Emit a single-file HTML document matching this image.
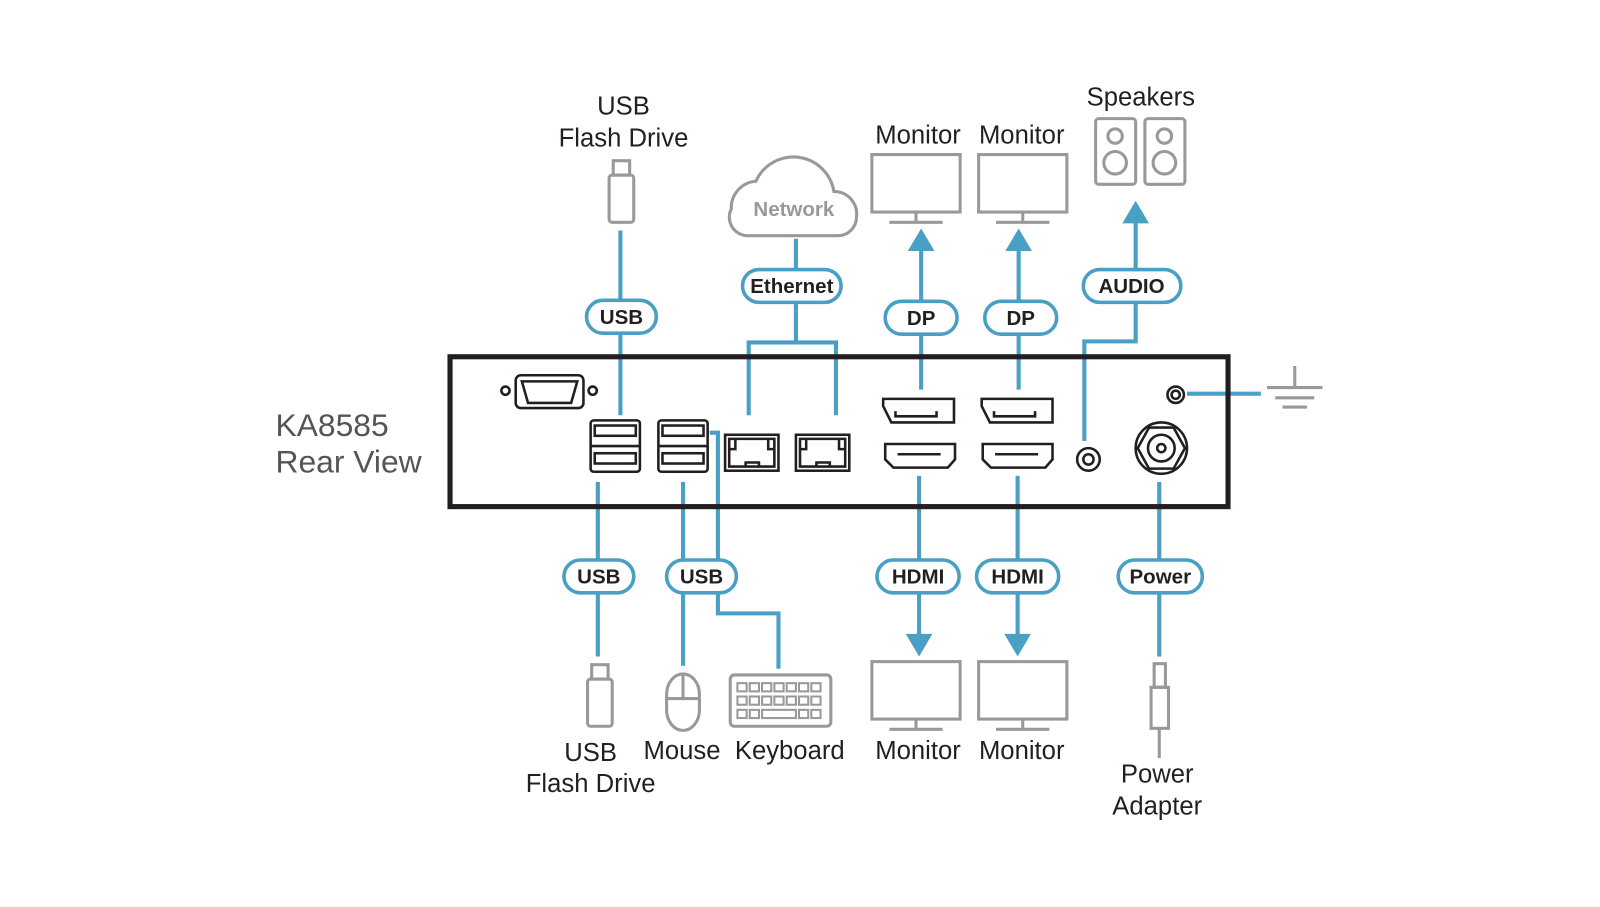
<!DOCTYPE html>
<html><head><meta charset="utf-8"><style>
html,body{margin:0;padding:0;background:#fff;}
svg{display:block;}
text{font-family:"Liberation Sans",Arial,sans-serif;}
</style></head><body>
<svg width="1600" height="907" viewBox="0 0 1600 907" xmlns="http://www.w3.org/2000/svg">
<rect width="1600" height="907" fill="#fff"/>
<g transform="translate(-5.7,-3.5) scale(1.0264)">
<g stroke="#4a9fc4" stroke-width="4" fill="none">
  <line x1="610" y1="228" x2="610" y2="408"/>
  <line x1="781" y1="236" x2="781" y2="336"/>
  <polyline points="735,408 735,337 820,337 820,408"/>
  <line x1="903" y1="383" x2="903" y2="246"/>
  <line x1="998" y1="383" x2="998" y2="246"/>
  <polyline points="1062,433 1062,336 1112,336 1112,218"/>
  <line x1="1162" y1="387" x2="1234" y2="387"/>
  <line x1="588" y1="473" x2="588" y2="643"/>
  <line x1="671" y1="473" x2="671" y2="652"/>
  <polyline points="697,425 705,425 705,601 764,601 764,655"/>
  <line x1="901" y1="467" x2="901" y2="626"/>
  <line x1="997" y1="467" x2="997" y2="626"/>
  <line x1="1135" y1="473" x2="1135" y2="643"/>
</g>
<g fill="#4a9fc4">
  <polygon points="903,226 890,248 916,248"/>
  <polygon points="998,226 985,248 1011,248"/>
  <polygon points="1112,199 1099,221 1125,221"/>
  <polygon points="901,643 888,621 914,621"/>
  <polygon points="997,643 984,621 1010,621"/>
</g>
<rect x="444" y="351" width="758" height="146" fill="none" stroke="#231f20" stroke-width="5"/>
<g stroke="#231f20" stroke-width="2.5" fill="none">
  <circle cx="498" cy="384" r="4"/><circle cx="583" cy="384" r="4"/>
  <rect x="508" y="369" width="66" height="32" rx="5"/>
  <path d="M514,375 H568 L562,396 H520 Z"/>
  <rect x="581" y="413" width="48" height="50" rx="3"/>
  <rect x="585" y="418" width="40" height="10"/><rect x="585" y="445" width="40" height="10"/>
  <line x1="581" y1="438" x2="629" y2="438"/>
  <rect x="647" y="413" width="48" height="50" rx="3"/>
  <rect x="651" y="418" width="40" height="10"/><rect x="651" y="445" width="40" height="10"/>
  <line x1="647" y1="438" x2="695" y2="438"/>
  <rect x="712" y="427" width="52" height="35"/>
  <path d="M716,431 H760 V458 H716 Z M716,441 H722 V431 M760,441 H754 V431 M732,458 V454 H745 V458"/>
  <rect x="781" y="427" width="52" height="35"/>
  <path d="M785,431 H829 V458 H785 Z M785,441 H791 V431 M829,441 H823 V431 M801,458 V454 H814 V458"/>
  <path d="M866,399 V392 H935 V415 H874 Z"/><path d="M878,404 V409 H918 V404"/>
  <path d="M962,399 V392 H1031 V415 H970 Z"/><path d="M974,404 V409 H1014 V404"/>
  <path d="M868,436 H936 V451 L929,459 H876 L868,451 Z"/><line x1="880" y1="446" x2="922" y2="446"/>
  <path d="M963,436 H1031 V451 L1024,459 H971 L963,451 Z"/><line x1="975" y1="446" x2="1017" y2="446"/>
  <circle cx="1066" cy="451" r="11"/><circle cx="1066" cy="451" r="5"/>
  <circle cx="1137" cy="440" r="25"/>
  <polygon points="1125,420 1149,420 1160,440 1149,460 1125,460 1114,440"/>
  <circle cx="1137" cy="440" r="13"/><circle cx="1137" cy="440" r="4"/>
  <circle cx="1151" cy="388" r="8"/><circle cx="1151" cy="388" r="4"/>
</g>
<g stroke="#999" stroke-width="3">
  <line x1="1267" y1="360" x2="1267" y2="380"/>
  <line x1="1240" y1="381" x2="1294" y2="381"/>
  <line x1="1248" y1="391" x2="1286" y2="391"/>
  <line x1="1255" y1="400" x2="1279" y2="400"/>
</g>
<g stroke="#999" stroke-width="3" fill="none">
  <rect x="599" y="174" width="24" height="46" rx="3"/>
  <rect x="603" y="160" width="16" height="14"/>
  <rect x="578" y="665" width="24" height="46" rx="3"/>
  <rect x="582" y="651" width="16" height="14"/>
  <path d="M718,207 A26,26 0 0 1 742,180 A40,40 0 0 1 818,190 A22,22 0 0 1 840,215 A18,18 0 0 1 822,233 H735 A18,18 0 0 1 718,207 Z" fill="#fff"/>
  <rect x="855" y="154" width="86" height="56"/><line x1="898" y1="210" x2="898" y2="219"/><line x1="872" y1="220" x2="924" y2="220"/>
  <rect x="959" y="154" width="86" height="56"/><line x1="1002" y1="210" x2="1002" y2="219"/><line x1="976" y1="220" x2="1028" y2="220"/>
  <rect x="855" y="648" width="86" height="56"/><line x1="898" y1="704" x2="898" y2="713"/><line x1="872" y1="714" x2="924" y2="714"/>
  <rect x="959" y="648" width="86" height="56"/><line x1="1002" y1="704" x2="1002" y2="713"/><line x1="976" y1="714" x2="1028" y2="714"/>
  <rect x="1073" y="119" width="39" height="64" rx="3"/><circle cx="1092" cy="136" r="7"/><circle cx="1092" cy="162" r="11"/>
  <rect x="1121" y="119" width="39" height="64" rx="3"/><circle cx="1140" cy="136" r="7"/><circle cx="1140" cy="162" r="11"/>
  <path d="M655,680 A16,20 0 0 1 687,680 V695 A16,20 0 0 1 655,695 Z"/><line x1="655" y1="684" x2="687" y2="684"/><line x1="671" y1="661" x2="671" y2="684"/>
  <rect x="717" y="661" width="98" height="50" rx="4"/>
  <rect x="1127" y="673" width="17" height="40"/><rect x="1130" y="650" width="11" height="23"/><line x1="1135" y1="713" x2="1135" y2="742"/>
</g>
<g stroke="#999" stroke-width="2" fill="none">
  <rect x="724" y="669" width="9" height="8"/><rect x="736" y="669" width="9" height="8"/><rect x="748" y="669" width="9" height="8"/><rect x="760" y="669" width="9" height="8"/><rect x="772" y="669" width="9" height="8"/><rect x="784" y="669" width="9" height="8"/><rect x="796" y="669" width="9" height="8"/>
  <rect x="724" y="682" width="9" height="8"/><rect x="736" y="682" width="9" height="8"/><rect x="748" y="682" width="9" height="8"/><rect x="760" y="682" width="9" height="8"/><rect x="772" y="682" width="9" height="8"/><rect x="784" y="682" width="9" height="8"/><rect x="796" y="682" width="9" height="8"/>
  <rect x="724" y="695" width="9" height="8"/><rect x="736" y="695" width="9" height="8"/><rect x="748" y="695" width="33" height="8"/><rect x="784" y="695" width="9" height="8"/><rect x="796" y="695" width="9" height="8"/>
</g>
<text x="779" y="214" font-size="20" font-weight="bold" fill="#999" text-anchor="middle">Network</text>
<g fill="#fff" stroke="#4a9fc4" stroke-width="3.5">
  <rect x="577" y="296" width="68" height="32" rx="16"/>
  <rect x="729" y="266" width="96" height="32" rx="16"/>
  <rect x="868" y="297" width="70" height="32" rx="16"/>
  <rect x="965" y="297" width="70" height="32" rx="16"/>
  <rect x="1061" y="266" width="95" height="32" rx="16"/>
  <rect x="555" y="549" width="68" height="32" rx="16"/>
  <rect x="655" y="549" width="68" height="32" rx="16"/>
  <rect x="860" y="549" width="80" height="32" rx="16"/>
  <rect x="957" y="549" width="80" height="32" rx="16"/>
  <rect x="1095" y="549" width="82" height="32" rx="16"/>
</g>
<g font-size="20" font-weight="bold" fill="#231f20" text-anchor="middle">
  <text x="611" y="319">USB</text>
  <text x="777" y="289">Ethernet</text>
  <text x="903" y="320">DP</text>
  <text x="1000" y="320">DP</text>
  <text x="1108" y="289">AUDIO</text>
  <text x="589" y="572">USB</text>
  <text x="689" y="572">USB</text>
  <text x="900" y="572">HDMI</text>
  <text x="997" y="572">HDMI</text>
  <text x="1136" y="572">Power</text>
</g>
<g font-size="25" fill="#231f20" text-anchor="middle">
  <text x="613" y="115">USB</text>
  <text x="613" y="146">Flash Drive</text>
  <text x="900" y="143">Monitor</text>
  <text x="1001" y="143">Monitor</text>
  <text x="1117" y="106">Speakers</text>
  <text x="581" y="745">USB</text>
  <text x="581" y="775">Flash Drive</text>
  <text x="670" y="743">Mouse</text>
  <text x="775" y="743">Keyboard</text>
  <text x="900" y="743">Monitor</text>
  <text x="1001" y="743">Monitor</text>
  <text x="1133" y="766">Power</text>
  <text x="1133" y="797">Adapter</text>
</g>
<text x="274" y="428" font-size="31" fill="#555">KA8585</text>
<text x="274" y="464" font-size="31" fill="#555">Rear View</text>
</g>
</svg>
</body></html>
